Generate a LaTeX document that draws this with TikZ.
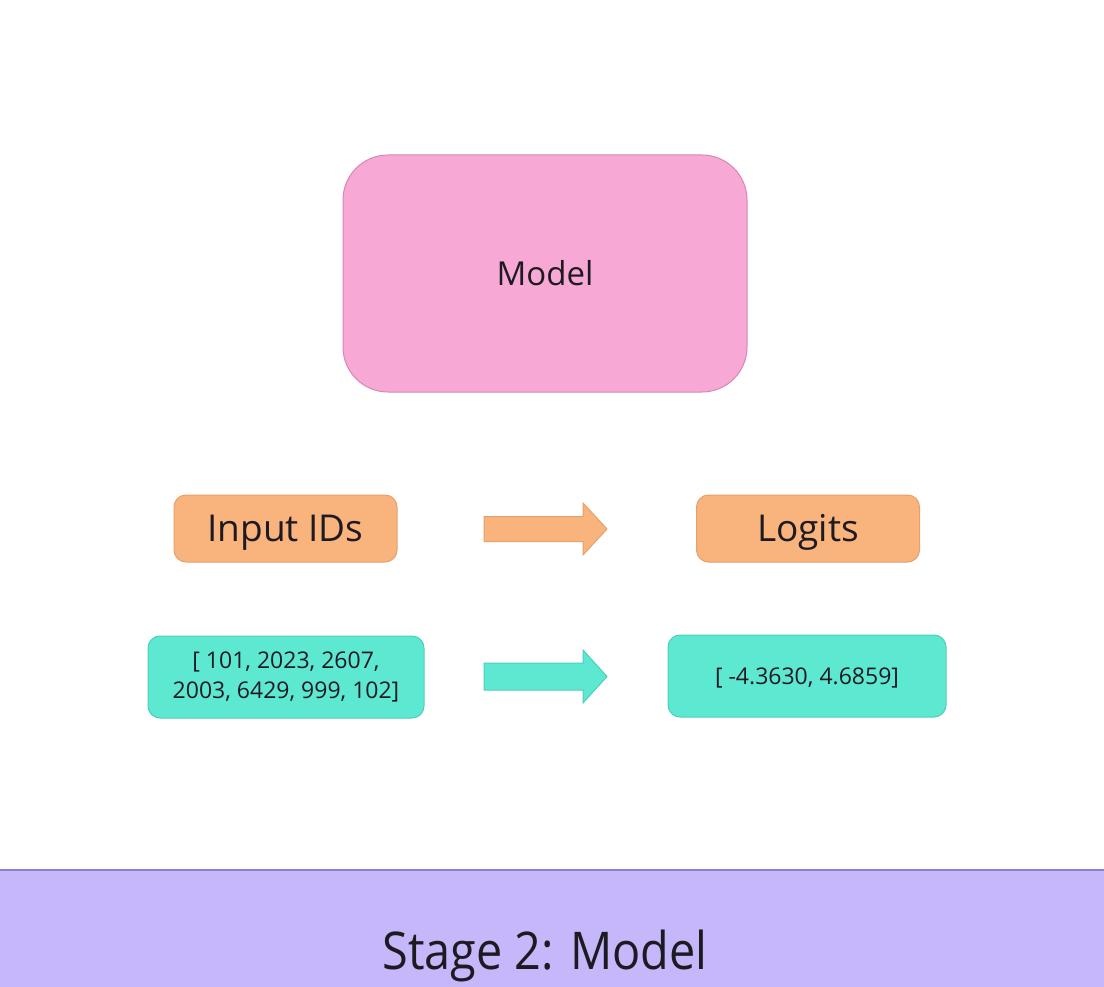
\documentclass[tikz,border=0pt]{standalone}
\usepackage{fontspec}
\setmainfont{Open Sans}
\definecolor{pinkfill}{HTML}{F8A8D4}
\definecolor{pinkline}{HTML}{D588B2}
\definecolor{orfill}{HTML}{F9B47E}
\definecolor{orline}{HTML}{E8A06A}
\definecolor{tealfill}{HTML}{5DE8D2}
\definecolor{tealline}{HTML}{4CD0B8}
\definecolor{purfill}{HTML}{C5B7FA}
\definecolor{purline}{HTML}{8E7EDC}
\definecolor{txt}{HTML}{1E1A22}
\tikzset{
  x=1pt,y=-1pt,
  box/.style={rounded corners=12pt, inner sep=0pt, line width=1pt, text=txt, align=center},
  capcenter/.style={text height=#1, text depth=0pt},
  orbox/.style={box, capcenter=26.6pt, fill=orfill, draw=orline, minimum width=223pt, minimum height=67pt, font=\fontsize{37}{44}\selectfont},
  tealbox/.style={box, fill=tealfill, draw=tealline, minimum height=82pt, font=\fontsize{23}{30}\selectfont},
  bigarrow/.style={line width=1pt, line join=miter},
}
\begin{document}
\begin{tikzpicture}
\useasboundingbox (0,0) rectangle (1104,987);
\fill[white] (0,0) rectangle (1104,987);
% bottom band
\fill[purfill] (0,870) rectangle (1104,987);
\draw[purline, line width=2pt] (0,870) -- (1104,870);
\node[text=txt, capcenter=37.4pt, font=\fontsize{52}{60}\selectfont, xscale=0.9] (stage) at (545,951) {Stage 2: Model};
% model
\node[box, capcenter=23.8pt, fill=pinkfill, draw=pinkline, rounded corners=45pt, minimum width=404pt, minimum height=237pt,
      font=\fontsize{33}{40}\selectfont] (model) at (545,273.5) {Model};
% row 1
\node[orbox] (inp) at (285.5,528.5) {Input IDs};
\node[orbox] (log) at (808,528.5) {Logits};
\coordinate (a1) at (484,529);
\draw[bigarrow, fill=orfill, draw=orline] ([yshift=12.5pt]a1) -- ++(99,0) -- ++(0,-13.5) -- ++(24,26) -- ++(-24,26) -- ++(0,-13.5) -- ++(-99,0) -- cycle;
% row 2
\node[tealbox, minimum width=276pt] (ids) at (286,677) {[ 101, 2023, 2607,\\2003, 6429, 999, 102]};
\node[tealbox, capcenter=16.6pt, minimum width=278pt] (lg) at (807,676) {[ -4.3630, 4.6859]};
\coordinate (a2) at (484,676.5);
\draw[bigarrow, fill=tealfill, draw=tealline] ([yshift=13.5pt]a2) -- ++(99,0) -- ++(0,-13) -- ++(24,26.5) -- ++(-24,26.5) -- ++(0,-13) -- ++(-99,0) -- cycle;
\end{tikzpicture}
\end{document}
